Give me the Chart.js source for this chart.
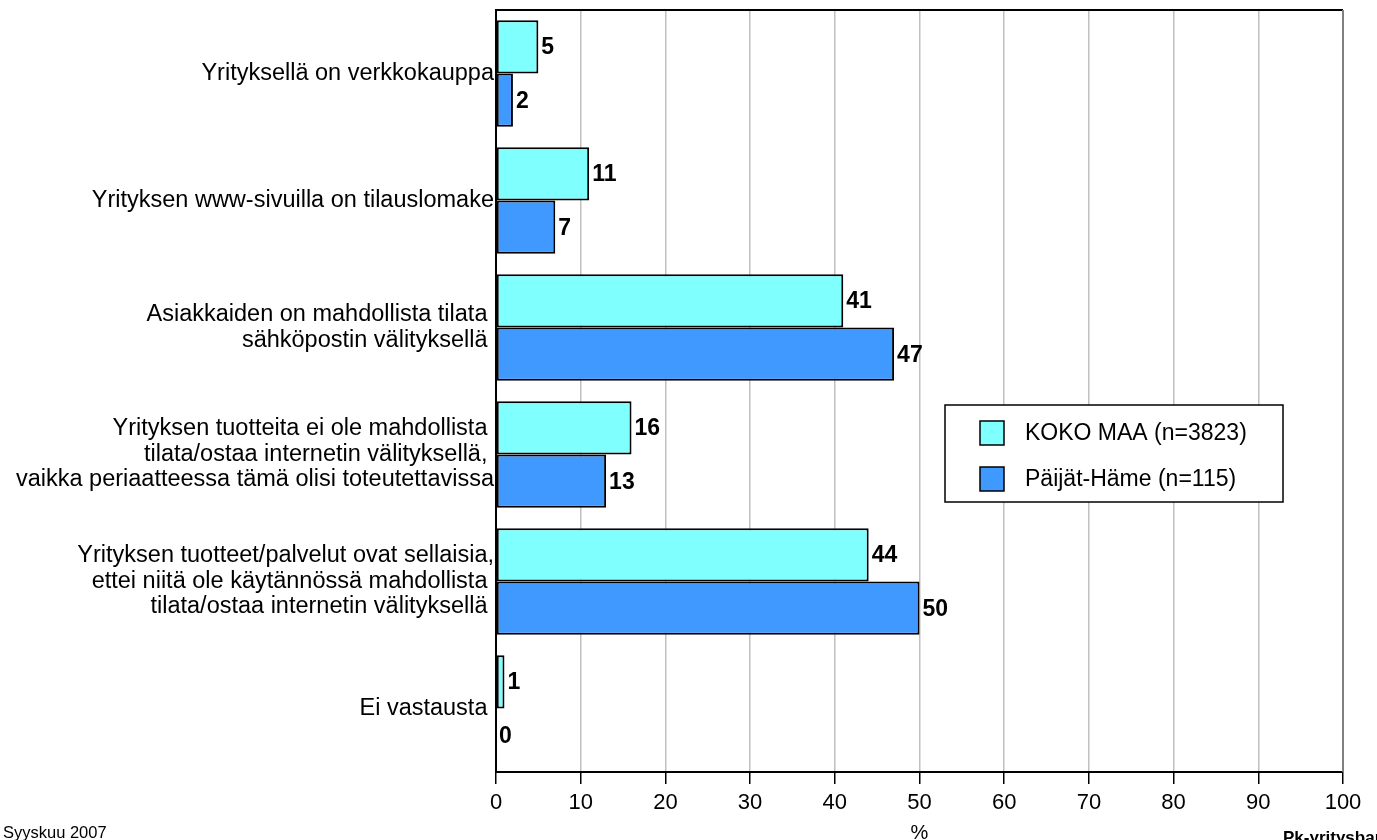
<!DOCTYPE html>
<html>
<head>
<meta charset="utf-8">
<script src="https://cdn.jsdelivr.net/npm/chart.js@4"></script>
<style>
  html, body { margin: 0; padding: 0; background: #fff; }
  #wrap { width: 1377px; height: 840px; }
</style>
</head>
<body>
<div id="wrap"><canvas id="chart" width="1377" height="840"></canvas></div>
<script>
// data
const categories = [
    ['Yrityksellä on verkkokauppa'],
    ['Yrityksen www-sivuilla on tilauslomake'],
    ['Asiakkaiden on mahdollista tilata ', 'sähköpostin välityksellä '],
    ['Yrityksen tuotteita ei ole mahdollista ', 'tilata/ostaa internetin välityksellä, ', 'vaikka periaatteessa tämä olisi toteutettavissa'],
    ['Yrityksen tuotteet/palvelut ovat sellaisia,', 'ettei niitä ole käytännössä mahdollista ', 'tilata/ostaa internetin välityksellä '],
    ['Ei vastausta ']
];
const seriesNames = ['KOKO MAA (n=3823)', 'Päijät-Häme (n=115)'];
const kokoMaa = [5, 11, 41, 16, 44, 1];
const paijatHame = [2, 7, 47, 13, 50, 0];
const xTicks = [0, 10, 20, 30, 40, 50, 60, 70, 80, 90, 100];

const FONT = '"Liberation Sans", Arial, sans-serif';

// value labels next to the bar ends
const valueLabels = {
    id: 'valueLabels',
    afterDatasetsDraw(chart) {
        const ctx = chart.ctx;
        ctx.save();
        ctx.font = 'bold 23px ' + FONT;
        ctx.fillStyle = '#000';
        ctx.textBaseline = 'middle';
        ctx.textAlign = 'left';
        chart.data.datasets.forEach((ds, i) => {
            chart.getDatasetMeta(i).data.forEach((bar, j) => {
                ctx.fillText(String(ds.data[j]), bar.x + 3, bar.y + 1);
            });
        });
        ctx.restore();
    }
};

// frame, legend box and footer texts
const extras = {
    id: 'extras',
    afterDraw(chart) {
        const ctx = chart.ctx;
        const a = chart.chartArea;
        ctx.save();
        // top and right edges of plot
        ctx.lineWidth = 2;
        ctx.strokeStyle = '#000';
        ctx.beginPath();
        ctx.moveTo(a.left, a.top);
        ctx.lineTo(a.right, a.top);
        ctx.stroke();
        ctx.strokeStyle = '#808080';
        ctx.beginPath();
        ctx.moveTo(a.right, a.top);
        ctx.lineTo(a.right, a.bottom);
        ctx.stroke();

        // legend
        ctx.fillStyle = '#fff';
        ctx.fillRect(945, 405, 338, 97);
        ctx.strokeStyle = '#000';
        ctx.lineWidth = 1.5;
        ctx.strokeRect(945, 405, 338, 97);
        ctx.font = '23px ' + FONT;
        ctx.textBaseline = 'middle';
        ctx.textAlign = 'left';
        chart.data.datasets.forEach((ds, i) => {
            const y = 433 + i * 46;
            ctx.fillStyle = ds.backgroundColor;
            ctx.fillRect(980, y - 12, 24, 24);
            ctx.strokeRect(980, y - 12, 24, 24);
            ctx.fillStyle = '#000';
            ctx.fillText(ds.label, 1025, y + 1);
        });

        // footer
        ctx.textBaseline = 'alphabetic';
        ctx.font = '16.5px ' + FONT;
        ctx.fillText('Syyskuu 2007', 3, 838);
        ctx.font = '20px ' + FONT;
        ctx.textAlign = 'center';
        ctx.fillText('%', (a.left + a.right) / 2, 839);
        ctx.font = 'bold 17px ' + FONT;
        ctx.textAlign = 'left';
        ctx.fillText('Pk-yritysbarometri', 1283, 843);
        ctx.restore();
    }
};

new Chart(document.getElementById('chart'), {
    type: 'bar',
    data: {
        labels: categories,
        datasets: [{
            label: seriesNames[0],
            data: kokoMaa,
            backgroundColor: '#80FFFF',
            borderColor: '#000',
            borderWidth: 2,
            borderSkipped: false
        }, {
            label: seriesNames[1],
            data: paijatHame,
            backgroundColor: '#4099FF',
            borderColor: '#000',
            borderWidth: 2,
            borderSkipped: false
        }]
    },
    options: {
        indexAxis: 'y',
        responsive: false,
        animation: false,
        layout: { padding: { top: 10, right: 34, left: 0, bottom: 0 } },
        categoryPercentage: 0.84,
        barPercentage: 1.0,
        plugins: {
            legend: { display: false },
            tooltip: { enabled: false }
        },
        scales: {
            x: {
                min: 0,
                max: 100,
                afterBuildTicks(scale) {
                    scale.ticks = xTicks.map(v => ({ value: v }));
                },
                afterFit(scale) { scale.height = 68; },
                grid: {
                    color: '#C0C0C0',
                    lineWidth: 1.5,
                    tickColor: '#000',
                    tickLength: 12
                },
                border: { color: '#000', width: 2 },
                ticks: {
                    color: '#000',
                    font: { family: FONT, size: 22 },
                    padding: 6
                }
            },
            y: {
                afterFit(scale) {
                    scale.width = 496;
                    scale.paddingTop = 0;
                    scale.paddingBottom = 0;
                },
                grid: { display: false, drawTicks: false },
                border: { color: '#000', width: 2 },
                ticks: {
                    color: '#000',
                    font: { family: FONT, size: 23.5, lineHeight: 1.085 },
                    padding: 2
                }
            }
        }
    },
    plugins: [valueLabels, extras]
});
</script>
</body>
</html>
